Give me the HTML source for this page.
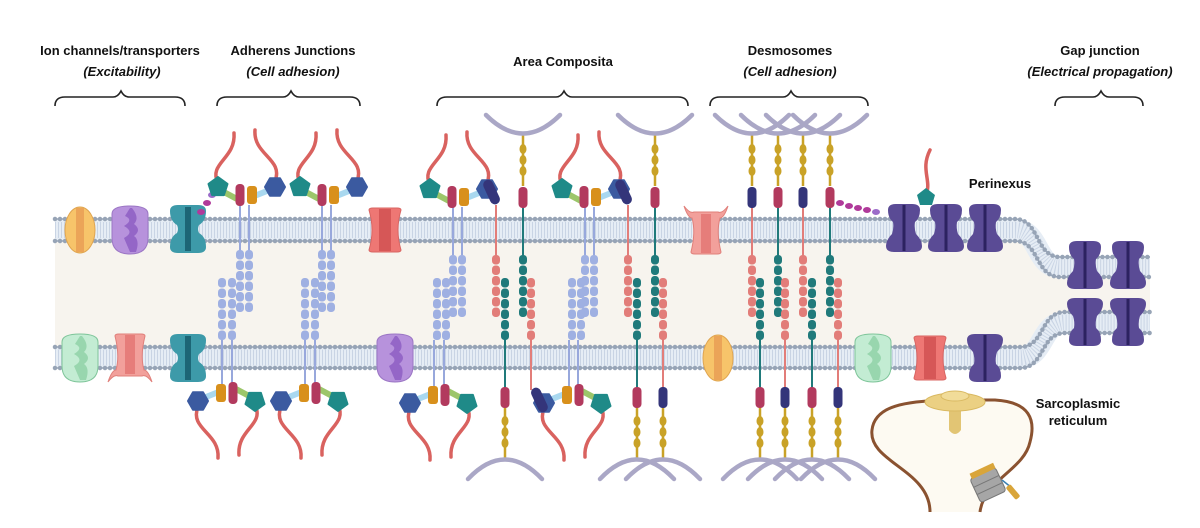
<!DOCTYPE html>
<html><head><meta charset="utf-8"><style>
html,body{margin:0;padding:0;background:#fff;}
svg{display:block;}
text{font-family:"Liberation Sans",sans-serif;font-weight:bold;fill:#111;}
</style></head><body>
<svg width="1200" height="528" viewBox="0 0 1200 528" xmlns="http://www.w3.org/2000/svg">
<defs>
<g id="stB"><rect x="-4" y="0" width="8" height="9.5" rx="3.5" fill="#9fb0e2"/><rect x="-4" y="10.5" width="8" height="9.5" rx="3.5" fill="#9fb0e2"/><rect x="-4" y="21" width="8" height="9.5" rx="3.5" fill="#9fb0e2"/><rect x="-4" y="31.5" width="8" height="9.5" rx="3.5" fill="#9fb0e2"/><rect x="-4" y="42" width="8" height="9.5" rx="3.5" fill="#9fb0e2"/><rect x="-4" y="52.5" width="8" height="9.5" rx="3.5" fill="#9fb0e2"/></g>
<g id="stR"><rect x="-4" y="0" width="8" height="9.5" rx="3.5" fill="#e27d79"/><rect x="-4" y="10.5" width="8" height="9.5" rx="3.5" fill="#e27d79"/><rect x="-4" y="21" width="8" height="9.5" rx="3.5" fill="#e27d79"/><rect x="-4" y="31.5" width="8" height="9.5" rx="3.5" fill="#e27d79"/><rect x="-4" y="42" width="8" height="9.5" rx="3.5" fill="#e27d79"/><rect x="-4" y="52.5" width="8" height="9.5" rx="3.5" fill="#e27d79"/></g>
<g id="stT"><rect x="-4" y="0" width="8" height="9.5" rx="3.5" fill="#207a7b"/><rect x="-4" y="10.5" width="8" height="9.5" rx="3.5" fill="#207a7b"/><rect x="-4" y="21" width="8" height="9.5" rx="3.5" fill="#207a7b"/><rect x="-4" y="31.5" width="8" height="9.5" rx="3.5" fill="#207a7b"/><rect x="-4" y="42" width="8" height="9.5" rx="3.5" fill="#207a7b"/><rect x="-4" y="52.5" width="8" height="9.5" rx="3.5" fill="#207a7b"/></g>
<g id="ych"><line x1="0" y1="0" x2="0" y2="52" stroke="#c9a227" stroke-width="2.5"/><ellipse cx="0" cy="15" rx="3.5" ry="5" fill="#c9a227"/><ellipse cx="0" cy="26" rx="3.5" ry="5" fill="#c9a227"/><ellipse cx="0" cy="37" rx="3.5" ry="5" fill="#c9a227"/></g>
<g id="aj">
<path d="M-22,-12 C-32,-32 -4,-36 -6,-62" fill="none" stroke="#d9625f" stroke-width="3.5" stroke-linecap="round"/>
<path d="M35,-14 C44,-36 13,-40 15,-65" fill="none" stroke="#d9625f" stroke-width="3.5" stroke-linecap="round"/>
<line x1="-18" y1="-4" x2="-3" y2="4" stroke="#9cc66a" stroke-width="6" stroke-linecap="round"/>
<line x1="12" y1="2" x2="32" y2="-6" stroke="#a9d8ef" stroke-width="6" stroke-linecap="round"/>
<polygon points="-22,-18 -12.5,-11.1 -16.1,0.1 -27.9,0.1 -31.5,-11.1" fill="#1f8a88" stroke="#1f8a88" stroke-width="2" stroke-linejoin="round"/>
<polygon points="45,-8 40,-16.7 30,-16.7 25,-8 30,0.7 40,0.7" fill="#3b5aa0" stroke="#3b5aa0" stroke-width="2" stroke-linejoin="round"/>
<rect x="-4.5" y="-11" width="9" height="22" rx="4" fill="#b23a5e"/>
<rect x="7" y="-9" width="10" height="18" rx="3" fill="#d8901c"/>
</g>
<g id="ac"><use href="#aj"/><rect x="-5" y="-14" width="10" height="26" rx="5" fill="#34357a" transform="translate(40,-4) rotate(-25)"/></g>
<g id="teal"><path d="M-18,-18 Q-18,-24 -10,-24 H10 Q18,-24 18,-18 Q18,-8 11,-4 Q9,0 11,4 Q18,8 18,18 Q18,24 10,24 H-10 Q-18,24 -18,18 Q-18,8 -11,4 Q-9,0 -11,-4 Q-18,-8 -18,-18Z" fill="#3d9aa9"/><rect x="-3" y="-22" width="6" height="44" fill="#1d6676"/></g>
<g id="cx"><path d="M-16,-18 Q-16,-24 -8,-24 H8 Q16,-24 16,-18 Q16,-10 11,-6 Q10,0 12,6 Q18,12 18,18 Q18,24 10,24 H-10 Q-18,24 -18,18 Q-18,12 -12,6 Q-10,0 -11,-6 Q-16,-10 -16,-18Z" fill="#5a4b95"/><line x1="0" y1="-23" x2="0" y2="23" stroke="#2c2260" stroke-width="3"/></g>
<g id="yel"><ellipse cx="0" cy="0" rx="15" ry="23" fill="#f7c46a" stroke="#e0a550"/><rect x="-4" y="-22" width="8" height="44" fill="#eba458"/></g>
<g id="pur"><path d="M-18,-16 Q-18,-24 0,-24 Q18,-24 18,-16 V8 Q18,24 0,24 Q-18,24 -18,8Z" fill="#b792dc" stroke="#9b76c4"/><path d="M0,-22 L-5,-14 Q4,-10 -6,-4 Q5,2 -6,8 L0,22 L6,22 Q10,10 4,6 Q12,0 4,-6 Q10,-12 2,-22Z" fill="#9466c7"/></g>
<g id="grn"><path d="M-18,-16 Q-18,-24 0,-24 Q18,-24 18,-16 V8 Q18,24 0,24 Q-18,24 -18,8Z" fill="#c3ecd3" stroke="#7fc59a"/><path d="M0,-22 L-5,-14 Q4,-10 -6,-4 Q5,2 -6,8 L0,22 L6,22 Q10,10 4,6 Q12,0 4,-6 Q10,-12 2,-22Z" fill="#98d6ae"/></g>
<g id="red"><path d="M-16,-20 Q-16,-22 -12,-22 H12 Q16,-22 16,-20 Q10,0 16,20 Q16,22 12,22 H-12 Q-16,22 -16,20 Q-10,0 -16,-20Z" fill="#ee7774" stroke="#d86562"/><rect x="-6" y="-21" width="12" height="42" fill="#d65757"/></g>
<g id="pink"><path d="M-22,-26 Q-16,-18 -12,-20 H12 Q16,-18 22,-26 Q18,-14 14,-14 Q10,0 15,20 Q15,22 11,22 H-11 Q-15,22 -15,20 Q-10,0 -14,-14 Q-18,-14 -22,-26Z" fill="#f2a09b" stroke="#e07f7a"/><rect x="-5" y="-18" width="10" height="39" fill="#e67d7a"/></g>
</defs>

<text x="120" y="55" font-size="13" text-anchor="middle">Ion channels/transporters</text>
<text x="122" y="76" font-size="13" text-anchor="middle" font-style="italic">(Excitability)</text>
<text x="293" y="55" font-size="13" text-anchor="middle">Adherens Junctions</text>
<text x="293" y="76" font-size="13" text-anchor="middle" font-style="italic">(Cell adhesion)</text>
<text x="563" y="66" font-size="13" text-anchor="middle">Area Composita</text>
<text x="790" y="55" font-size="13" text-anchor="middle">Desmosomes</text>
<text x="790" y="76" font-size="13" text-anchor="middle" font-style="italic">(Cell adhesion)</text>
<text x="1100" y="55" font-size="13" text-anchor="middle">Gap junction</text>
<text x="1100" y="76" font-size="13" text-anchor="middle" font-style="italic">(Electrical propagation)</text>
<g fill="none" stroke="#222" stroke-width="1.6">
<path d="M55,106 Q55,97 65,97 H113 Q118,97 121,91 Q124,97 129,97 H175 Q185,97 185,106"/>
<path d="M217,106 Q217,97 227,97 H283 Q288,97 291,91 Q294,97 299,97 H350 Q360,97 360,106"/>
<path d="M437,106 Q437,97 447,97 H556 Q561,97 564,91 Q567,97 572,97 H678 Q688,97 688,106"/>
<path d="M710,106 Q710,97 720,97 H783 Q788,97 791,91 Q794,97 799,97 H858 Q868,97 868,106"/>
<path d="M1055,106 Q1055,97 1065,97 H1093 Q1098,97 1101,91 Q1104,97 1109,97 H1133 Q1143,97 1143,106"/>
</g>

<path d="M55,241 H1015 C1040,241 1035,277 1060,277 H1150 V312 H1065 C1040,312 1045,347 1020,347 H55Z" fill="#f7f4ee"/>
<g fill="none">
<path d="M55,230 H1015 C1040,230 1035,267 1060,267 H1150" stroke="#e6edf5" stroke-width="22"/>
<path d="M55,230 H1015 C1040,230 1035,267 1060,267 H1150" stroke="#c9d4e4" stroke-width="16" stroke-dasharray="1 2"/>
<path d="M55,219 H1015 C1040,219 1035,257 1060,257 H1150" stroke="#97a4b6" stroke-width="1.5"/>
<path d="M55,219 H1015 C1040,219 1035,257 1060,257 H1150" stroke="#97a4b6" stroke-width="4.5" stroke-dasharray="0 5" stroke-linecap="round"/>
<path d="M55,241 H1015 C1040,241 1035,277 1060,277 H1150" stroke="#97a4b6" stroke-width="1.5"/>
<path d="M55,241 H1015 C1040,241 1035,277 1060,277 H1150" stroke="#97a4b6" stroke-width="4.5" stroke-dasharray="0 5" stroke-linecap="round"/>
<path d="M55,357.5 H1020 C1045,357.5 1040,322.5 1065,322.5 H1150" stroke="#e6edf5" stroke-width="22"/>
<path d="M55,357.5 H1020 C1045,357.5 1040,322.5 1065,322.5 H1150" stroke="#c9d4e4" stroke-width="16" stroke-dasharray="1 2"/>
<path d="M55,347 H1020 C1045,347 1040,312 1065,312 H1150" stroke="#97a4b6" stroke-width="1.5"/>
<path d="M55,347 H1020 C1045,347 1040,312 1065,312 H1150" stroke="#97a4b6" stroke-width="4.5" stroke-dasharray="0 5" stroke-linecap="round"/>
<path d="M55,368 H1020 C1045,368 1040,333 1065,333 H1150" stroke="#97a4b6" stroke-width="1.5"/>
<path d="M55,368 H1020 C1045,368 1040,333 1065,333 H1150" stroke="#97a4b6" stroke-width="4.5" stroke-dasharray="0 5" stroke-linecap="round"/>
</g>

<use href="#yel" x="80" y="230"/>
<use href="#pur" x="130" y="230"/>
<use href="#teal" x="188" y="229"/>
<use href="#red" x="385" y="230"/>
<use href="#pink" x="706" y="232"/>
<use href="#cx" x="904" y="228"/>
<use href="#cx" x="946" y="228"/>
<use href="#cx" x="985" y="228"/>
<use href="#cx" x="1085" y="265"/>
<use href="#cx" x="1128" y="265"/>
<use href="#cx" x="1085" y="322" transform="translate(2170,644) scale(-1,-1)"/>
<use href="#cx" x="1128" y="322" transform="translate(2256,644) scale(-1,-1)"/>
<use href="#grn" x="80" y="358"/>
<use href="#pink" x="130" y="356" transform="translate(0,712) scale(1,-1)"/>
<use href="#teal" x="188" y="358"/>
<use href="#pur" x="395" y="358"/>
<use href="#yel" x="718" y="358"/>
<use href="#grn" x="873" y="358"/>
<use href="#red" x="930" y="358"/>
<use href="#cx" x="985" y="358" transform="translate(1970,716) scale(-1,-1)"/>

<g fill="#b03a9a"><ellipse cx="201" cy="212" rx="4" ry="3"/><ellipse cx="207" cy="203" rx="4" ry="3"/><ellipse cx="212" cy="195" rx="4" ry="3" fill="#9b6cc9"/>
<ellipse cx="840" cy="203" rx="4" ry="3"/><ellipse cx="849" cy="206" rx="4" ry="3"/><ellipse cx="858" cy="208" rx="4" ry="3"/><ellipse cx="867" cy="210" rx="4" ry="3"/><ellipse cx="876" cy="212" rx="4" ry="3" fill="#9b6cc9"/></g>
<path d="M926,195 C932,180 920,170 930,150" fill="none" stroke="#d9625f" stroke-width="3.5" stroke-linecap="round"/>
<polygon points="926,188 935,195 932,205 920,205 917,195" fill="#1f8a88"/>
<text x="1000" y="188" font-size="13" text-anchor="middle">Perinexus</text>

<g stroke="#98a8dc" stroke-width="2">
<line x1="240" y1="205" x2="240" y2="252"/><line x1="249" y1="205" x2="249" y2="252"/>
<line x1="222" y1="340" x2="222" y2="386"/><line x1="232" y1="340" x2="232" y2="386"/>
<line x1="322" y1="205" x2="322" y2="252"/><line x1="331" y1="205" x2="331" y2="252"/>
<line x1="305" y1="340" x2="305" y2="386"/><line x1="315" y1="340" x2="315" y2="386"/>
<line x1="453" y1="207" x2="453" y2="255"/><line x1="462" y1="207" x2="462" y2="255"/>
<line x1="434" y1="340" x2="434" y2="388"/><line x1="444" y1="340" x2="444" y2="388"/>
<line x1="585" y1="207" x2="585" y2="255"/><line x1="594" y1="207" x2="594" y2="255"/>
<line x1="569" y1="340" x2="569" y2="388"/><line x1="578" y1="340" x2="578" y2="388"/>
</g>
<use href="#stB" x="240" y="250"/><use href="#stB" x="249" y="250"/>
<use href="#stB" x="222" y="278"/><use href="#stB" x="232" y="278"/>
<use href="#stB" x="322" y="250"/><use href="#stB" x="331" y="250"/>
<use href="#stB" x="305" y="278"/><use href="#stB" x="315" y="278"/>
<use href="#stB" x="453" y="255"/><use href="#stB" x="462" y="255"/>
<use href="#stB" x="437" y="278"/><use href="#stB" x="446" y="278"/>
<use href="#stB" x="585" y="255"/><use href="#stB" x="594" y="255"/>
<use href="#stB" x="572" y="278"/><use href="#stB" x="581" y="278"/>

<g stroke-width="2">
<line x1="496" y1="205" x2="496" y2="256" stroke="#e27d79"/>
<line x1="523" y1="205" x2="523" y2="256" stroke="#207a7b"/>
<line x1="505" y1="338" x2="505" y2="390" stroke="#207a7b"/>
<line x1="531" y1="338" x2="531" y2="390" stroke="#e27d79"/>
<line x1="628" y1="205" x2="628" y2="256" stroke="#e27d79"/>
<line x1="655" y1="205" x2="655" y2="256" stroke="#207a7b"/>
<line x1="637" y1="338" x2="637" y2="390" stroke="#207a7b"/>
<line x1="663" y1="338" x2="663" y2="390" stroke="#e27d79"/>
<line x1="752" y1="205" x2="752" y2="256" stroke="#e27d79"/>
<line x1="778" y1="205" x2="778" y2="256" stroke="#207a7b"/>
<line x1="803" y1="205" x2="803" y2="256" stroke="#e27d79"/>
<line x1="830" y1="205" x2="830" y2="256" stroke="#207a7b"/>
<line x1="760" y1="338" x2="760" y2="390" stroke="#207a7b"/>
<line x1="785" y1="338" x2="785" y2="390" stroke="#e27d79"/>
<line x1="812" y1="338" x2="812" y2="390" stroke="#207a7b"/>
<line x1="838" y1="338" x2="838" y2="390" stroke="#e27d79"/>
</g>
<use href="#stR" x="496" y="255"/><use href="#stT" x="523" y="255"/><use href="#stT" x="505" y="278"/><use href="#stR" x="531" y="278"/>
<use href="#stR" x="628" y="255"/><use href="#stT" x="655" y="255"/><use href="#stT" x="637" y="278"/><use href="#stR" x="663" y="278"/>
<use href="#stR" x="752" y="255"/><use href="#stT" x="778" y="255"/><use href="#stR" x="803" y="255"/><use href="#stT" x="830" y="255"/>
<use href="#stT" x="760" y="278"/><use href="#stR" x="785" y="278"/><use href="#stT" x="812" y="278"/><use href="#stR" x="838" y="278"/>

<use href="#ych" x="523" y="134"/><use href="#ych" x="655" y="134"/>
<use href="#ych" x="752" y="134"/><use href="#ych" x="778" y="134"/><use href="#ych" x="803" y="134"/><use href="#ych" x="830" y="134"/>
<use href="#ych" x="505" y="406"/><use href="#ych" x="637" y="406"/><use href="#ych" x="663" y="406"/>
<use href="#ych" x="760" y="406"/><use href="#ych" x="785" y="406"/><use href="#ych" x="812" y="406"/><use href="#ych" x="838" y="406"/>

<g>
<rect x="518.5" y="187" width="9" height="21" rx="4" fill="#b23a5e"/>
<rect x="650.5" y="187" width="9" height="21" rx="4" fill="#b23a5e"/>
<rect x="747.5" y="187" width="9" height="21" rx="4" fill="#34357a"/>
<rect x="773.5" y="187" width="9" height="21" rx="4" fill="#b23a5e"/>
<rect x="798.5" y="187" width="9" height="21" rx="4" fill="#34357a"/>
<rect x="825.5" y="187" width="9" height="21" rx="4" fill="#b23a5e"/>
<rect x="500.5" y="387" width="9" height="21" rx="4" fill="#b23a5e"/>
<rect x="632.5" y="387" width="9" height="21" rx="4" fill="#b23a5e"/>
<rect x="658.5" y="387" width="9" height="21" rx="4" fill="#34357a"/>
<rect x="755.5" y="387" width="9" height="21" rx="4" fill="#b23a5e"/>
<rect x="780.5" y="387" width="9" height="21" rx="4" fill="#34357a"/>
<rect x="807.5" y="387" width="9" height="21" rx="4" fill="#b23a5e"/>
<rect x="833.5" y="387" width="9" height="21" rx="4" fill="#34357a"/>
</g>

<g fill="none" stroke="#aaa7c6" stroke-width="4.5" stroke-linecap="round">
<path d="M486,115 Q523,152 560,115"/>
<path d="M618,115 Q655,152 692,115"/>
<path d="M715,115 Q752,152 789,115"/><path d="M741,115 Q778,152 815,115"/><path d="M766,115 Q803,152 840,115"/><path d="M793,115 Q830,152 867,115"/>
<path d="M468,479 Q505,440 542,479"/>
<path d="M600,479 Q637,440 674,479"/><path d="M626,479 Q663,440 700,479"/>
<path d="M723,479 Q760,440 797,479"/><path d="M748,479 Q785,440 822,479"/><path d="M775,479 Q812,440 849,479"/><path d="M801,479 Q838,440 875,479"/>
</g>

<use href="#aj" transform="translate(240,195)"/>
<use href="#aj" transform="translate(322,195)"/>
<use href="#aj" transform="translate(233,393) rotate(180)"/>
<use href="#aj" transform="translate(316,393) rotate(180)"/>
<use href="#ac" transform="translate(452,197)"/>
<use href="#ac" transform="translate(584,197)"/>
<use href="#aj" transform="translate(445,395) rotate(180)"/>
<use href="#ac" transform="translate(579,395) rotate(180)"/>

<path d="M930,512 C930,470 868,462 872,430 C875,404 910,402 940,400 L995,400 C1030,402 1036,420 1030,442 C1024,470 984,480 980,512" fill="#fdfaf2" stroke="#8a5230" stroke-width="3"/>
<path d="M949,408 H961 V430 Q955,438 949,430Z" fill="#e2c574"/>
<ellipse cx="955" cy="402" rx="30" ry="9" fill="#ebd083" stroke="#d9b962"/>
<ellipse cx="955" cy="396" rx="14" ry="5" fill="#f1dc99" stroke="#d9b962"/>
<g transform="translate(988,485) rotate(-25)">
<rect x="-14" y="-13" width="28" height="26" rx="3" fill="#a6a6a6" stroke="#777"/>
<line x1="-14" y1="-4" x2="14" y2="-4" stroke="#777"/><line x1="-14" y1="4" x2="14" y2="4" stroke="#777"/>
<rect x="-12" y="-18" width="26" height="6" fill="#d9a53a"/>
</g>
<line x1="1002" y1="480" x2="1012" y2="488" stroke="#3b7fb0" stroke-width="1.5"/>
<rect x="1010" y="484" width="6" height="16" rx="2" fill="#d9a53a" transform="rotate(-40 1013 492)"/>
<text x="1078" y="408" font-size="13" text-anchor="middle">Sarcoplasmic</text>
<text x="1078" y="425" font-size="13" text-anchor="middle">reticulum</text>
</svg>
</body></html>
